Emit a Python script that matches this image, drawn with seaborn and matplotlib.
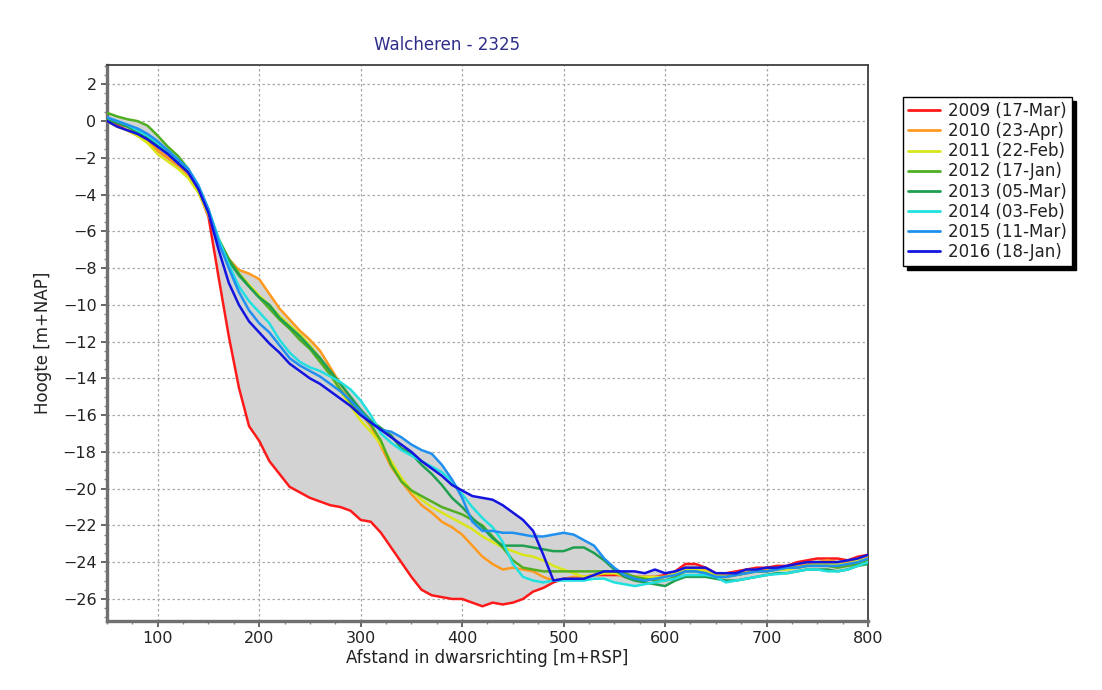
import numpy as np
import pandas as pd
import matplotlib
matplotlib.use("Agg")
import matplotlib.pyplot as plt
from matplotlib.lines import Line2D
from matplotlib.ticker import MultipleLocator
import seaborn as sns

# ---------------- data ----------------
afstand = list(range(50, 801, 10))

labels = ["2009 (17-Mar)", "2010 (23-Apr)", "2011 (22-Feb)", "2012 (17-Jan)",
          "2013 (05-Mar)", "2014 (03-Feb)", "2015 (11-Mar)", "2016 (18-Jan)"]
colors = ["#ff1a1a", "#ff9a1f", "#d9e61a", "#4fae22",
          "#1f9f4f", "#22e0e0", "#2090f0", "#1414e0"]

z2009 = [0.0, -0.2, -0.5, -0.7, -1.1, -1.6, -2.0, -2.4, -2.9, -3.8,
         -5.2, -8.5, -11.7, -14.5, -16.6, -17.4, -18.5, -19.2, -19.9, -20.2,
         -20.5, -20.7, -20.9, -21.0, -21.2, -21.7, -21.8, -22.4, -23.2, -24.0,
         -24.8, -25.5, -25.8, -25.9, -26.0, -26.0, -26.2, -26.4, -26.2, -26.3,
         -26.2, -26.0, -25.6, -25.4, -25.1, -24.9, -24.9, -24.8, -24.7, -24.7,
         -24.7, -24.7, -24.8, -24.8, -24.8, -24.7, -24.5, -24.1, -24.1, -24.3,
         -24.6, -24.6, -24.5, -24.4, -24.3, -24.3, -24.2, -24.2, -24.0, -23.9,
         -23.8, -23.8, -23.8, -23.9, -23.7, -23.6]
z2010 = [0.0, -0.3, -0.5, -0.8, -1.1, -1.6, -2.0, -2.4, -2.9, -3.8,
         -5.1, -6.5, -7.5, -8.1, -8.3, -8.6, -9.4, -10.2, -10.8, -11.4,
         -11.9, -12.5, -13.4, -14.3, -15.1, -15.9, -16.6, -17.7, -18.8, -19.6,
         -20.3, -20.9, -21.3, -21.8, -22.1, -22.5, -23.1, -23.7, -24.1, -24.4,
         -24.3, -24.4, -24.5, -24.8, -25.0, -24.9, -24.8, -24.8, -24.7, -24.6,
         -24.6, -24.8, -24.9, -24.9, -24.9, -24.8, -24.6, -24.3, -24.3, -24.4,
         -24.7, -24.7, -24.6, -24.5, -24.4, -24.4, -24.3, -24.3, -24.2, -24.1,
         -24.0, -23.9, -24.0, -24.0, -23.8, -23.7]
z2011 = [0.0, -0.3, -0.5, -0.8, -1.2, -1.8, -2.2, -2.6, -3.1, -3.9,
         -5.1, -6.5, -7.6, -8.3, -8.9, -9.5, -10.0, -10.6, -11.1, -11.6,
         -12.2, -12.9, -13.8, -14.7, -15.5, -16.3, -16.9, -17.6, -18.5, -19.4,
         -20.1, -20.6, -21.0, -21.3, -21.6, -21.9, -22.2, -22.6, -22.9, -23.2,
         -23.4, -23.6, -23.7, -23.9, -24.2, -24.4, -24.6, -24.8, -24.7, -24.6,
         -24.6, -24.7, -24.8, -24.8, -24.8, -24.8, -24.6, -24.4, -24.4, -24.5,
         -24.7, -24.8, -24.7, -24.6, -24.5, -24.5, -24.4, -24.4, -24.3, -24.2,
         -24.1, -24.1, -24.1, -24.1, -23.9, -23.8]
z2012 = [0.45, 0.25, 0.1, 0.0, -0.25, -0.8, -1.4, -1.9, -2.6, -3.6,
         -4.9, -6.4, -7.5, -8.3, -9.0, -9.6, -10.2, -10.8, -11.3, -11.9,
         -12.4, -13.1, -13.8, -14.6, -15.3, -15.9, -16.5, -17.4, -18.7, -19.6,
         -20.1, -20.4, -20.7, -21.0, -21.2, -21.4, -21.7, -22.0, -22.6, -23.2,
         -23.9, -24.3, -24.4, -24.5, -24.5, -24.5, -24.5, -24.5, -24.5, -24.5,
         -24.5, -24.6, -24.8, -24.9, -25.0, -25.0, -24.8, -24.5, -24.5, -24.6,
         -24.8, -24.8, -24.7, -24.6, -24.5, -24.5, -24.4, -24.3, -24.3, -24.2,
         -24.2, -24.2, -24.3, -24.2, -24.1, -23.9]
z2013 = [0.1, -0.1, -0.3, -0.6, -0.9, -1.3, -1.7, -2.2, -2.7, -3.6,
         -4.9, -6.5, -7.6, -8.4, -9.0, -9.6, -10.0, -10.7, -11.2, -11.7,
         -12.3, -12.9, -13.6, -14.3, -15.0, -15.7, -16.3, -16.7, -17.1, -17.8,
         -18.1, -18.7, -19.2, -19.8, -20.5, -21.0, -21.6, -22.1, -22.7, -23.1,
         -23.1, -23.1, -23.2, -23.3, -23.4, -23.4, -23.2, -23.2, -23.5, -23.9,
         -24.4, -24.8, -25.0, -25.1, -25.2, -25.3, -25.0, -24.8, -24.8, -24.8,
         -24.9, -25.0, -25.0, -24.9, -24.8, -24.7, -24.6, -24.6, -24.5, -24.4,
         -24.4, -24.4, -24.5, -24.4, -24.2, -24.1]
z2014 = [0.2, 0.0, -0.2, -0.5, -0.8, -1.2, -1.6, -2.1, -2.6, -3.5,
         -4.8, -6.4, -7.8, -9.0, -9.8, -10.4, -11.0, -11.9, -12.6, -13.1,
         -13.4, -13.6, -13.9, -14.2, -14.6, -15.2, -16.0, -17.0, -17.5, -17.9,
         -18.2, -18.5, -18.8, -19.1, -19.6, -20.3, -21.0, -21.6, -22.1, -22.9,
         -24.1, -24.8, -25.0, -25.1, -25.0, -25.0, -25.0, -25.0, -24.9, -24.9,
         -25.1, -25.2, -25.3, -25.2, -25.1, -25.0, -24.9, -24.7, -24.7, -24.7,
         -24.8, -25.1, -25.0, -24.9, -24.8, -24.7, -24.65, -24.6, -24.5, -24.4,
         -24.4, -24.5, -24.5, -24.4, -24.2, -24.0]
z2015 = [0.2, 0.0, -0.2, -0.4, -0.7, -1.1, -1.6, -2.1, -2.6, -3.5,
         -4.8, -6.6, -8.0, -9.3, -10.3, -11.0, -11.5, -12.2, -12.9, -13.3,
         -13.6, -13.9, -14.3, -14.7, -15.2, -15.8, -16.4, -16.8, -16.9, -17.2,
         -17.6, -17.9, -18.1, -18.7, -19.5, -20.5, -21.8, -22.3, -22.3, -22.4,
         -22.4, -22.5, -22.6, -22.6, -22.5, -22.4, -22.5, -22.8, -23.1, -23.8,
         -24.3, -24.7, -24.9, -25.0, -24.9, -24.8, -24.7, -24.5, -24.5, -24.6,
         -24.8, -24.8, -24.7, -24.6, -24.5, -24.5, -24.4, -24.3, -24.3, -24.2,
         -24.2, -24.2, -24.2, -24.1, -24.0, -23.8]
z2016 = [0.0, -0.3, -0.5, -0.7, -1.0, -1.4, -1.8, -2.3, -2.8, -3.7,
         -5.0, -7.0, -8.8, -10.0, -10.9, -11.5, -12.1, -12.6, -13.2, -13.6,
         -14.0, -14.3, -14.7, -15.1, -15.5, -16.0, -16.4, -16.8, -17.2, -17.6,
         -18.0, -18.5, -18.9, -19.3, -19.8, -20.1, -20.4, -20.5, -20.6, -20.9,
         -21.3, -21.7, -22.3, -23.6, -25.0, -24.9, -24.9, -24.9, -24.7, -24.5,
         -24.5, -24.5, -24.5, -24.6, -24.4, -24.6, -24.5, -24.3, -24.3, -24.3,
         -24.6, -24.6, -24.6, -24.4, -24.4, -24.3, -24.3, -24.2, -24.1, -24.0,
         -24.0, -24.0, -24.0, -23.9, -23.8, -23.6]

series = [z2009, z2010, z2011, z2012, z2013, z2014, z2015, z2016]

xticks = [100, 200, 300, 400, 500, 600, 700, 800]
yticks = [2, 0, -2, -4, -6, -8, -10, -12, -14, -16, -18, -20, -22, -24, -26]

# ---------------- figure ----------------
sns.set_theme(style="white")
plt.rcParams["font.family"] = ["DejaVu Sans"]

rows = []
for lab, vals in zip(labels, series):
    for xv, zv in zip(afstand, vals):
        rows.append({"afstand": xv, "hoogte": zv, "jaar": lab})
df = pd.DataFrame(rows)

fig = plt.figure(figsize=(11.02, 6.9), dpi=100)
ax = fig.add_axes([107 / 1102, 1 - 621 / 690, (868 - 107) / 1102, (621 - 65) / 690])

arr = np.array(series)
ax.fill_between(afstand, arr.min(axis=0), arr.max(axis=0), color="#d3d3d3", zorder=1, linewidth=0)

sns.lineplot(data=df, x="afstand", y="hoogte", hue="jaar", hue_order=labels,
             palette=colors, linewidth=1.8, estimator=None, sort=False,
             legend=False, ax=ax, zorder=3)

ax.set_xlim(50, 800)
ax.set_ylim(-27.2, 3.05)
ax.set_xticks(xticks)
ax.set_yticks(yticks)
ax.xaxis.set_minor_locator(MultipleLocator(25))
ax.yaxis.set_minor_locator(MultipleLocator(0.5))
ax.tick_params(axis="both", which="major", labelsize=11.5, colors="#555555",
               labelcolor="#222222", length=4, direction="out")
ax.tick_params(axis="both", which="minor", colors="#888888", length=2.5, direction="out")
ax.tick_params(left=True, bottom=True, which="both")

ax.grid(True, which="major", linestyle=(0, (2, 2)), color="#a8a8a8", linewidth=0.9, zorder=0)
ax.set_axisbelow(True)

for side in ["left", "bottom"]:
    ax.spines[side].set_color("#707070")
    ax.spines[side].set_linewidth(2.4)
for side in ["top", "right"]:
    ax.spines[side].set_color("#404040")
    ax.spines[side].set_linewidth(1.3)

ax.set_xlabel("Afstand in dwarsrichting [m+RSP]", fontsize=12, color="#222222", labelpad=2)
ax.set_ylabel("Hoogte [m+NAP]", fontsize=12, color="#222222", labelpad=8)

fig.text(447 / 1102, 1 - 45 / 690, "Walcheren - 2325", ha="center", va="center",
         fontsize=12, color="#2e2e8a")

handles = [Line2D([0], [0], color=c, lw=2) for c in colors]
leg = fig.legend(handles, labels, loc="upper left",
                 bbox_to_anchor=(903 / 1102, 1 - 97 / 690),
                 frameon=True, fancybox=False,
                 shadow={"ox": 3, "oy": -3, "color": "black", "alpha": 1.0},
                 edgecolor="black", fontsize=12, handlelength=1.9,
                 handletextpad=0.5, labelspacing=0.13, borderpad=0.3,
                 borderaxespad=0)
leg.get_frame().set_linewidth(1.0)
leg.get_frame().set_facecolor("white")
for t in leg.get_texts():
    t.set_color("#222222")

fig.savefig("out.png", dpi=100, facecolor="white")
